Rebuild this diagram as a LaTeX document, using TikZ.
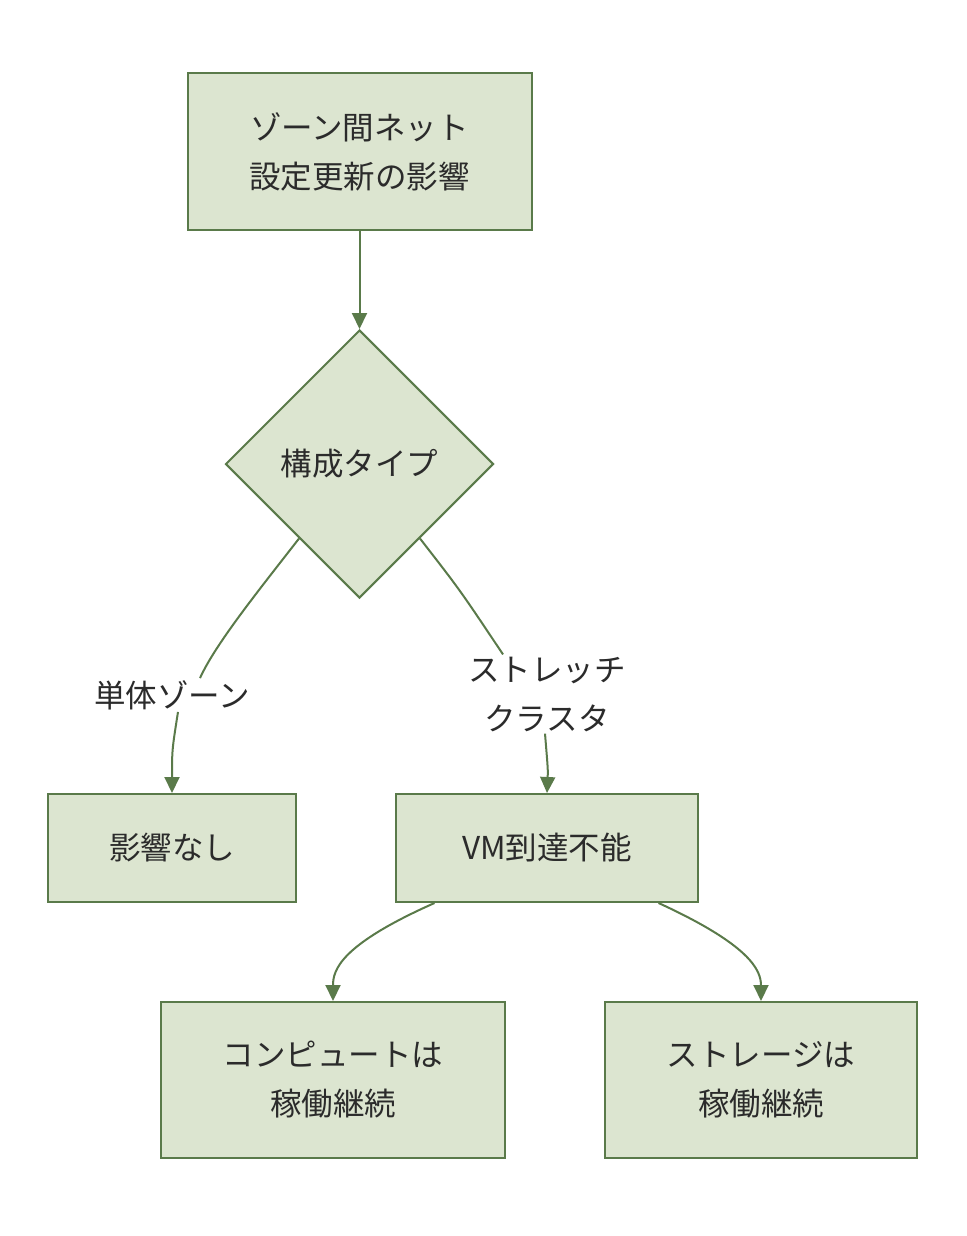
\documentclass[tikz,border=0pt]{standalone}
\usepackage{fontspec}
\setmainfont{Noto Sans CJK JP}
\usetikzlibrary{shapes.geometric,arrows.meta,calc}
\definecolor{boxfill}{HTML}{DCE5D0}
\definecolor{boxline}{HTML}{5A7A4A}
\definecolor{txt}{HTML}{2B2B2B}
\begin{document}
\begin{tikzpicture}[x=1pt,y=-1pt,
  every node/.style={text=txt,font=\fontsize{31.5}{49}\selectfont},
  box/.style={draw=boxline,fill=boxfill,line width=2pt,rectangle,inner sep=0pt,align=center},
  dec/.style={draw=boxline,fill=boxfill,line width=2pt,diamond,inner sep=0pt,minimum width=268pt,minimum height=268pt},
  lbl/.style={fill=white,inner sep=2pt,align=center},
  conn/.style={draw=boxline,line width=2pt},
  arr/.style={conn,-{Triangle[length=16pt,width=15pt]}}]
\useasboundingbox (0,0) rectangle (966,1236);
\node[box,minimum width=344pt,minimum height=157pt] (top) at (359.5,151.5) {ゾーン間ネット\\設定更新の影響};
\node[dec] (d) at (359.5,464) {構成タイプ};
\node[box,minimum width=248pt,minimum height=108pt] (none) at (172,848) {影響なし};
\node[box,minimum width=302pt,minimum height=108pt] (vm) at (547,848) {VM到達不能};
\node[box,minimum width=344pt,minimum height=156pt] (comp) at (333,1080) {コンピュートは\\稼働継続};
\node[box,minimum width=312pt,minimum height=156pt] (stor) at (761,1080) {ストレージは\\稼働継続};
\node[lbl] (l1) at (172,695) {単体ゾーン};
\node[lbl] (l2) at (547,694) {ストレッチ\\クラスタ};
\draw[arr] (top.south) -- (d.north);
\draw[conn] ($(d.west)!0.552!(d.south)$) .. controls (255,595) and (215,645) .. (l1.north -| 200,0);
\draw[arr] (l1.south -| 178,0) .. controls (172,750) .. (none.north);
\draw[conn] ($(d.east)!0.552!(d.south)$) .. controls (460,590) .. (l2.north -| 503,0);
\draw[arr] (l2.south -| 545,0) .. controls (548,770) .. (vm.north);
\draw[arr] ($(vm.south west)!0.13!(vm.south east)$) .. controls (340,945) and (333,970) .. (comp.north);
\draw[arr] ($(vm.south west)!0.867!(vm.south east)$) .. controls (750,945) and (761,970) .. (stor.north);
\end{tikzpicture}
\end{document}
